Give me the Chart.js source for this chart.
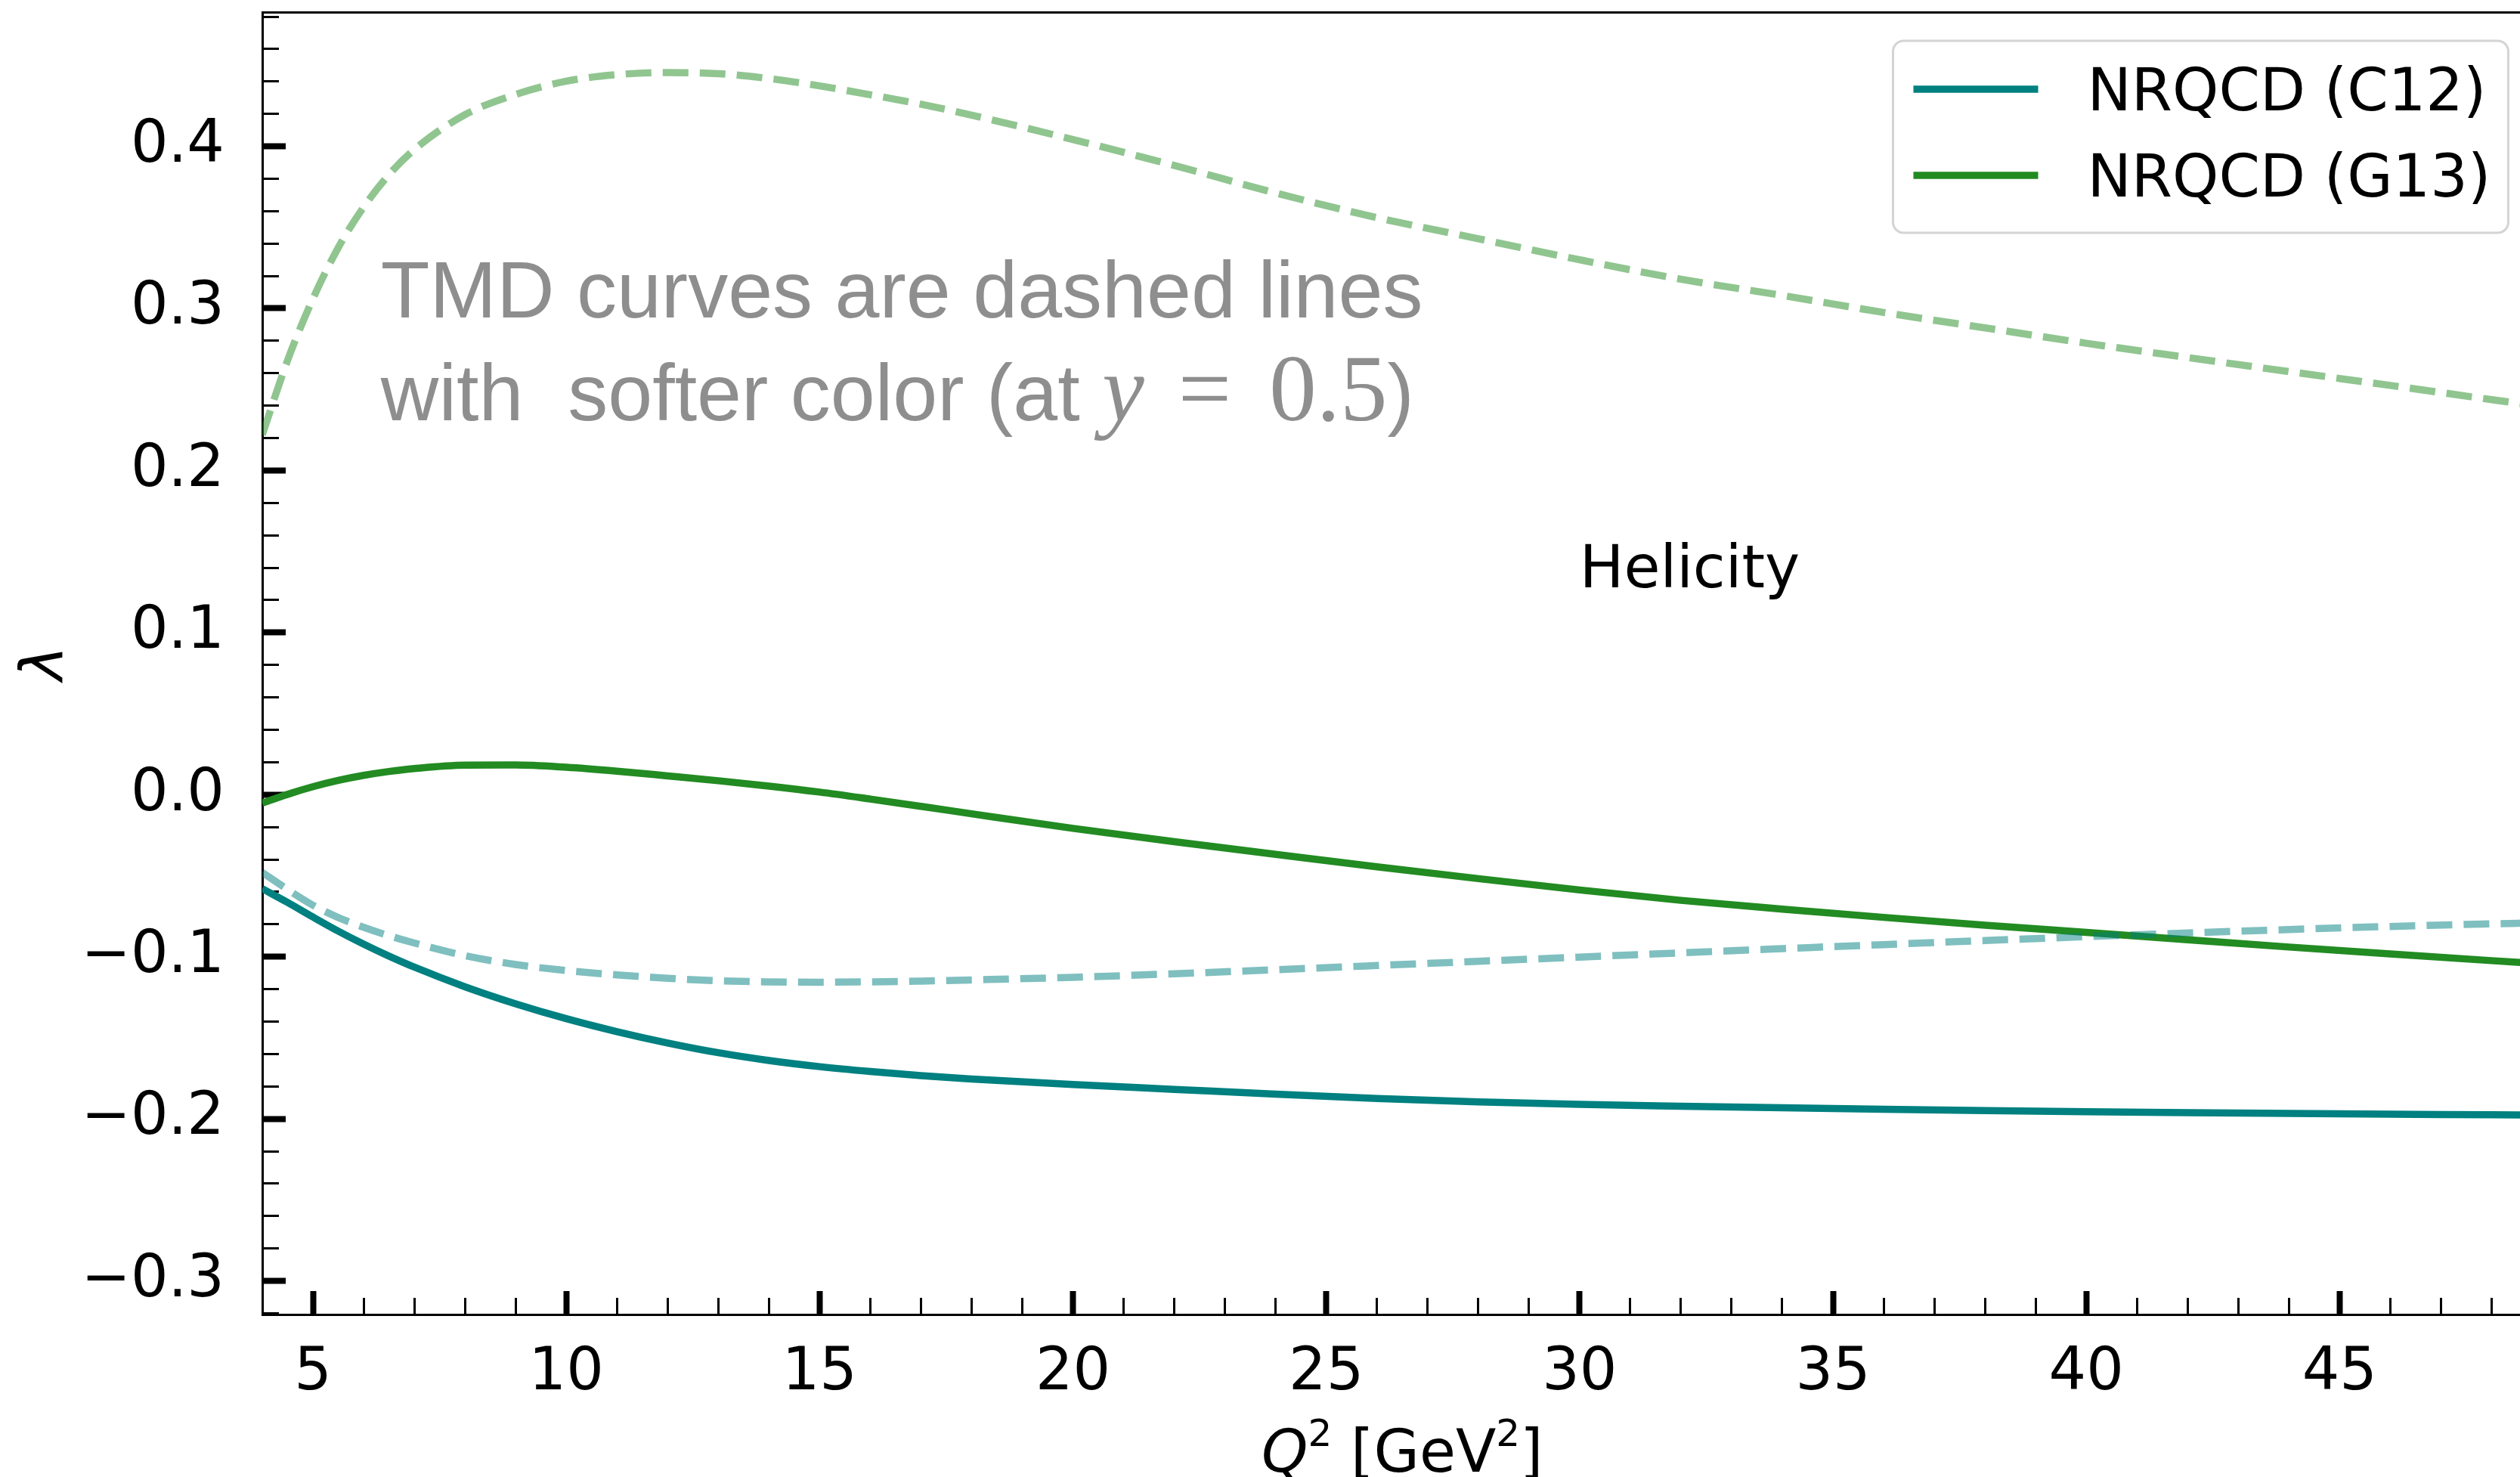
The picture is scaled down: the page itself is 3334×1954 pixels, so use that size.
<!DOCTYPE html>
<html>
<head>
<meta charset="utf-8">
<title>Helicity lambda vs Q2</title>
<script src="https://cdn.jsdelivr.net/npm/chart.js@4.4.1/dist/chart.umd.min.js"></script>
<style>
    html, body { margin: 0; padding: 0; background: #fff; }
    canvas { display: block; }
</style>
</head>
<body>
<canvas id="helicityChart" width="3334" height="1954"></canvas>
<script>
const q2 = [4, 4.5, 5, 5.5, 6, 6.5, 7, 8, 9, 10, 11, 12, 13, 14, 15, 16, 17, 18,
    20, 22, 24, 26, 28, 30, 32, 34, 36, 38, 40, 42, 44, 46, 48, 49];

// NRQCD (solid)
const nrqcdC12 = [-0.058, -0.0665, -0.0755, -0.0842, -0.0922, -0.0996, -0.1064, -0.1185, -0.129, -0.1382,
    -0.1462, -0.1532, -0.1592, -0.164, -0.1678, -0.1708, -0.1733, -0.1754,
    -0.1788, -0.1818, -0.1848, -0.1874, -0.1895, -0.1911, -0.1922, -0.1932, -0.1941, -0.1949,
    -0.1956, -0.1962, -0.1967, -0.1971, -0.1975, -0.1977];
const nrqcdG13 = [-0.0052, 0.0002, 0.0049, 0.0088, 0.0119, 0.0143, 0.0161, 0.0182, 0.0183, 0.0169,
    0.0145, 0.0116, 0.0086, 0.0053, 0.0016, -0.0027, -0.0072, -0.0118,
    -0.0208, -0.029, -0.0368, -0.0445, -0.0518, -0.0588, -0.0652, -0.0706, -0.0757, -0.0805,
    -0.085, -0.0895, -0.094, -0.0983, -0.1024, -0.1043];

// TMD at y = 0.5 (dashed, softer colour)
const tmdC12 = [-0.048, -0.0585, -0.0682, -0.0758, -0.0818, -0.087, -0.0915, -0.0993, -0.1048, -0.1085,
    -0.1112, -0.1133, -0.1148, -0.1155, -0.1157, -0.1155, -0.115, -0.1143,
    -0.1127, -0.1105, -0.108, -0.1054, -0.1028, -0.1002, -0.0976, -0.095, -0.0925, -0.09,
    -0.0876, -0.0853, -0.0832, -0.0813, -0.0797, -0.079];
const tmdG13 = [0.222, 0.268, 0.306, 0.3375, 0.3625, 0.3825, 0.398, 0.4195, 0.432, 0.4402,
    0.4442, 0.4455, 0.4448, 0.4418, 0.4373, 0.4318, 0.426, 0.4192,
    0.4042, 0.3882, 0.3712, 0.356, 0.343, 0.330, 0.318, 0.308, 0.2975, 0.288,
    0.2785, 0.2697, 0.261, 0.2525, 0.2437, 0.2395];

// labelled (major) ticks
const xTickLabels = [5, 10, 15, 20, 25, 30, 35, 40, 45];
const yTickLabels = [-0.3, -0.2, -0.1, 0.0, 0.1, 0.2, 0.3, 0.4];

const FONT = "'DejaVu Sans', sans-serif";
const TEAL = '#008080';
const GREEN = '#228b22';

const toPoints = ys => q2.map((x, i) => ({ x: x, y: ys[i] }));
const isMajorX = v => xTickLabels.some(t => Math.abs(t - v) < 1e-6);
const isMajorY = v => yTickLabels.some(t => Math.abs(t - v) < 1e-6);
const fmtY = v => (Math.abs(v) < 1e-9 ? 0 : v).toFixed(1).replace('-', '\u2212');

// draw a row of differently styled text pieces
function drawRuns(ctx, runs, x, y, align) {
    let total = 0;
    runs.forEach(r => {
        ctx.font = r.font;
        r.w = ctx.measureText(r.text).width + (r.gap || 0);
        total += r.w;
    });
    let cx = align === 'center' ? x - total / 2 : x;
    runs.forEach(r => {
        ctx.font = r.font;
        ctx.fillText(r.text, cx, y + (r.dy || 0));
        cx += r.w;
    });
}

const overlayPlugin = {
    id: 'overlay',
    afterDraw(chart) {
        const { ctx, chartArea: a, scales } = chart;
        // full axes box (the right part lies outside the picture)
        const axLeft = scales.x.getPixelForValue(4);
        const axRight = scales.x.getPixelForValue(49);
        const w = axRight - axLeft;
        const h = a.bottom - a.top;
        ctx.save();
        ctx.textAlign = 'left';
        ctx.textBaseline = 'alphabetic';

        // x axis title: Q^2 [GeV^2]
        ctx.fillStyle = '#000';
        drawRuns(ctx, [
            { text: 'Q', font: "italic 78px " + FONT },
            { text: '2', font: "50px " + FONT, dy: -34 },
            { text: ' [GeV', font: "78px " + FONT },
            { text: '2', font: "50px " + FONT, dy: -34 },
            { text: ']', font: "78px " + FONT }
        ], (axLeft + axRight) / 2, scales.x.bottom - 7, 'center');

        // Helicity label (data coordinates)
        ctx.font = "78px " + FONT;
        ctx.fillText('Helicity', scales.x.getPixelForValue(30), scales.y.getPixelForValue(0.128));

        // note about TMD curves (axes coordinates)
        ctx.fillStyle = '#8e8e8e';
        const nx = axLeft + 0.052 * w;
        ctx.font = "106px 'Liberation Sans', Arial, sans-serif";
        ctx.fillText('TMD curves are dashed lines', nx, a.bottom - 0.7655 * h);
        drawRuns(ctx, [
            { text: 'with  softer color (at ', font: "106px 'Liberation Sans', Arial, sans-serif" },
            { text: 'y', font: "italic 125px 'Liberation Serif', serif", gap: 45 },
            { text: '=', font: "125px 'Liberation Serif', serif", gap: 50 },
            { text: '0.5', font: "125px 'Liberation Serif', serif" },
            { text: ')', font: "106px 'Liberation Sans', Arial, sans-serif" }
        ], nx, a.bottom - 0.6866 * h, 'left');

        // legend, upper right
        const bw = 814, bh = 254, r = 14;
        const bx = axRight - 45 - bw;
        const by = a.top + 38;
        ctx.beginPath();
        ctx.moveTo(bx + r, by);
        ctx.lineTo(bx + bw - r, by);
        ctx.arcTo(bx + bw, by, bx + bw, by + r, r);
        ctx.lineTo(bx + bw, by + bh - r);
        ctx.arcTo(bx + bw, by + bh, bx + bw - r, by + bh, r);
        ctx.lineTo(bx + r, by + bh);
        ctx.arcTo(bx, by + bh, bx, by + bh - r, r);
        ctx.lineTo(bx, by + r);
        ctx.arcTo(bx, by, bx + r, by, r);
        ctx.closePath();
        ctx.fillStyle = 'rgba(255,255,255,0.8)';
        ctx.fill();
        ctx.strokeStyle = '#d4d4d4';
        ctx.lineWidth = 3;
        ctx.stroke();

        const items = chart.data.datasets.filter(d => d.inLegend);
        items.forEach((d, i) => {
            const ly = by + 64 + i * 114;
            ctx.beginPath();
            ctx.moveTo(bx + 27, ly);
            ctx.lineTo(bx + 192, ly);
            ctx.strokeStyle = d.borderColor;
            ctx.lineWidth = d.borderWidth;
            ctx.setLineDash([]);
            ctx.stroke();
            ctx.fillStyle = '#000';
            ctx.font = "78px " + FONT;
            ctx.fillText(d.label, bx + 257, ly + 28);
        });
        ctx.restore();
    }
};

const common = {
    pointRadius: 0,
    borderWidth: 9.5,
    fill: false,
    cubicInterpolationMode: 'monotone',
    borderCapStyle: 'butt',
    clip: 0
};

const ctx = document.getElementById('helicityChart');
new Chart(ctx, {
    type: 'line',
    data: {
        datasets: [
            Object.assign({}, common, {
                label: 'TMD (C12)', data: toPoints(tmdC12),
                borderColor: 'rgba(0,128,128,0.5)', borderDash: [34, 15], order: 0
            }),
            Object.assign({}, common, {
                label: 'TMD (G13)', data: toPoints(tmdG13),
                borderColor: 'rgba(34,139,34,0.5)', borderDash: [34, 15], order: 0
            }),
            Object.assign({}, common, {
                label: 'NRQCD (C12)', data: toPoints(nrqcdC12),
                borderColor: TEAL, order: 1, inLegend: true
            }),
            Object.assign({}, common, {
                label: 'NRQCD (G13)', data: toPoints(nrqcdG13),
                borderColor: GREEN, order: 1, inLegend: true
            })
        ]
    },
    options: {
        responsive: false,
        devicePixelRatio: 1,
        animation: false,
        events: [],
        layout: { padding: 0 },
        plugins: {
            legend: { display: false },
            tooltip: { enabled: false }
        },
        scales: {
            x: {
                type: 'linear',
                position: 'bottom',
                min: 4,
                max: 48.56, // the figure is cut at the right edge
                afterFit: s => {
                    s.height = 215;
                    s.paddingLeft = 0; s.paddingRight = 0;
                },
                border: { display: true, color: '#000', width: 3 },
                grid: {
                    drawOnChartArea: false,
                    drawTicks: true,
                    tickLength: -31,
                    tickColor: '#000',
                    tickWidth: c => (c.tick && isMajorX(c.tick.value)) ? 8 : 3,
                    tickBorderDash: c => (c.tick && isMajorX(c.tick.value)) ? [] : [24, 100]
                },
                ticks: {
                    stepSize: 1,
                    autoSkip: false,
                    includeBounds: false,
                    maxRotation: 0,
                    minRotation: 0,
                    padding: 63,
                    color: '#000',
                    font: { family: FONT, size: 78 },
                    callback: v => isMajorX(v) ? String(v) : ''
                }
            },
            xTop: {
                type: 'linear',
                position: 'top',
                min: 4,
                max: 48.56,
                afterFit: s => {
                    s.height = 16;
                    s.paddingLeft = 0; s.paddingRight = 0;
                },
                border: { display: true, color: '#000', width: 3 },
                grid: { display: false, drawTicks: false },
                ticks: { display: false }
            },
            y: {
                type: 'linear',
                position: 'left',
                min: -0.3207,
                max: 0.4828,
                afterFit: s => {
                    s.width = 347;
                    s.paddingTop = 0; s.paddingBottom = 0;
                },
                border: { display: true, color: '#000', width: 3 },
                grid: {
                    drawOnChartArea: false,
                    drawTicks: true,
                    tickLength: -31,
                    tickColor: '#000',
                    tickWidth: c => (c.tick && isMajorY(c.tick.value)) ? 8 : 3,
                    tickBorderDash: c => (c.tick && isMajorY(c.tick.value)) ? [] : [0, 9, 24, 100]
                },
                ticks: {
                    stepSize: 0.02,
                    autoSkip: false,
                    includeBounds: false,
                    padding: 81,
                    color: '#000',
                    font: { family: FONT, size: 78 },
                    callback: v => isMajorY(v) ? fmtY(v) : ''
                },
                title: {
                    display: true,
                    text: '\u03bb',
                    color: '#000',
                    font: { family: FONT, size: 78, style: 'italic' },
                    padding: { top: 16, bottom: 0 }
                }
            }
        }
    },
    plugins: [overlayPlugin]
});
</script>
</body>
</html>
